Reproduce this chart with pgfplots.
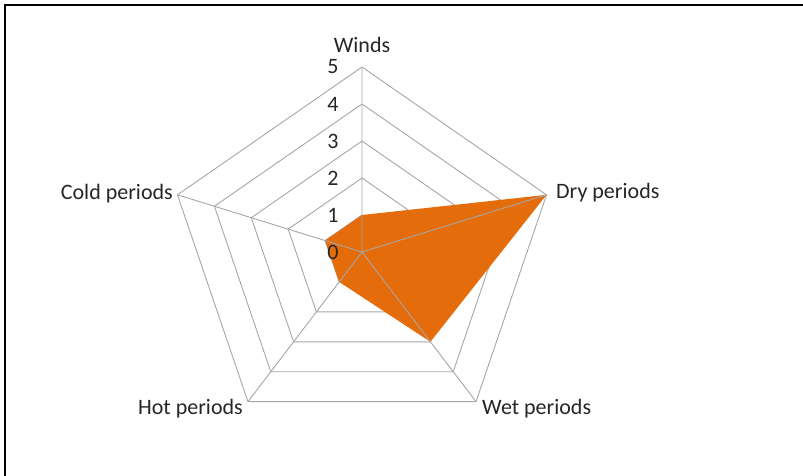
\documentclass[border=0pt]{standalone}
\usepackage{pgfplots}
\pgfplotsset{compat=1.18}
\usepackage{fontspec}
\setmainfont{Carlito}
\definecolor{fillorange}{HTML}{E46C0A}
\definecolor{gridgray}{HTML}{A6A6A6}
\definecolor{txt}{HTML}{262626}
\begin{document}
\begin{tikzpicture}[lbl/.style={font=\fontsize{22}{26}\selectfont, text=txt, inner sep=0pt}]
\begin{axis}[
  scale only axis,
  width=803pt, height=475pt,
  xmin=-9.33, xmax=11.366,
  ymin=-6.027, ymax=6.811,
  axis lines=none,
  clip=false,
]
\path (rel axis cs:0,0) coordinate (bl) (rel axis cs:1,1) coordinate (tr);
% pentagonal rings
\addplot[gridgray, line width=0.9pt, data cs=polar] coordinates {(90,1) (18,1) (-54,1) (-126,1) (162,1) (90,1)};
\addplot[gridgray, line width=0.9pt, data cs=polar] coordinates {(90,2) (18,2) (-54,2) (-126,2) (162,2) (90,2)};
\addplot[gridgray, line width=0.9pt, data cs=polar] coordinates {(90,3) (18,3) (-54,3) (-126,3) (162,3) (90,3)};
\addplot[gridgray, line width=0.9pt, data cs=polar] coordinates {(90,4) (18,4) (-54,4) (-126,4) (162,4) (90,4)};
\addplot[gridgray, line width=0.9pt, data cs=polar] coordinates {(90,5) (18,5) (-54,5) (-126,5) (162,5) (90,5)};
% data series
\addplot[fill=fillorange, draw=none, data cs=polar] coordinates {(90,1) (18,5) (-54,3) (-126,1) (162,1) (90,1)};
% spokes
\addplot[gridgray, line width=0.9pt, data cs=polar] coordinates {(90,5) (0,0) (18,5) (0,0) (-54,5) (0,0) (-126,5) (0,0) (162,5)};
% tick labels
\node[lbl] at (axis cs:-0.75,0) {0};
\node[lbl] at (axis cs:-0.75,1) {1};
\node[lbl] at (axis cs:-0.75,2) {2};
\node[lbl] at (axis cs:-0.75,3) {3};
\node[lbl] at (axis cs:-0.75,4) {4};
\node[lbl] at (axis cs:-0.75,5) {5};
% category labels
\node[lbl, anchor=base] at (axis cs:0,5.405) {Winds};
\node[lbl, anchor=base west] at (axis cs:5.0,1.459) {Dry periods};
\node[lbl, anchor=base west] at (axis cs:3.093,-4.405) {Wet periods};
\node[lbl, anchor=base east] at (axis cs:-3.067,-4.405) {Hot periods};
\node[lbl, anchor=base east] at (axis cs:-4.871,1.432) {Cold periods};
% frame
\draw[black, line width=2.5pt] (axis cs:-9.2,-6.2) -- (axis cs:-9.2,6.676) -- (axis cs:11.5,6.676);
\end{axis}
\pgfresetboundingbox
\useasboundingbox (bl) rectangle (tr);
\end{tikzpicture}
\end{document}
